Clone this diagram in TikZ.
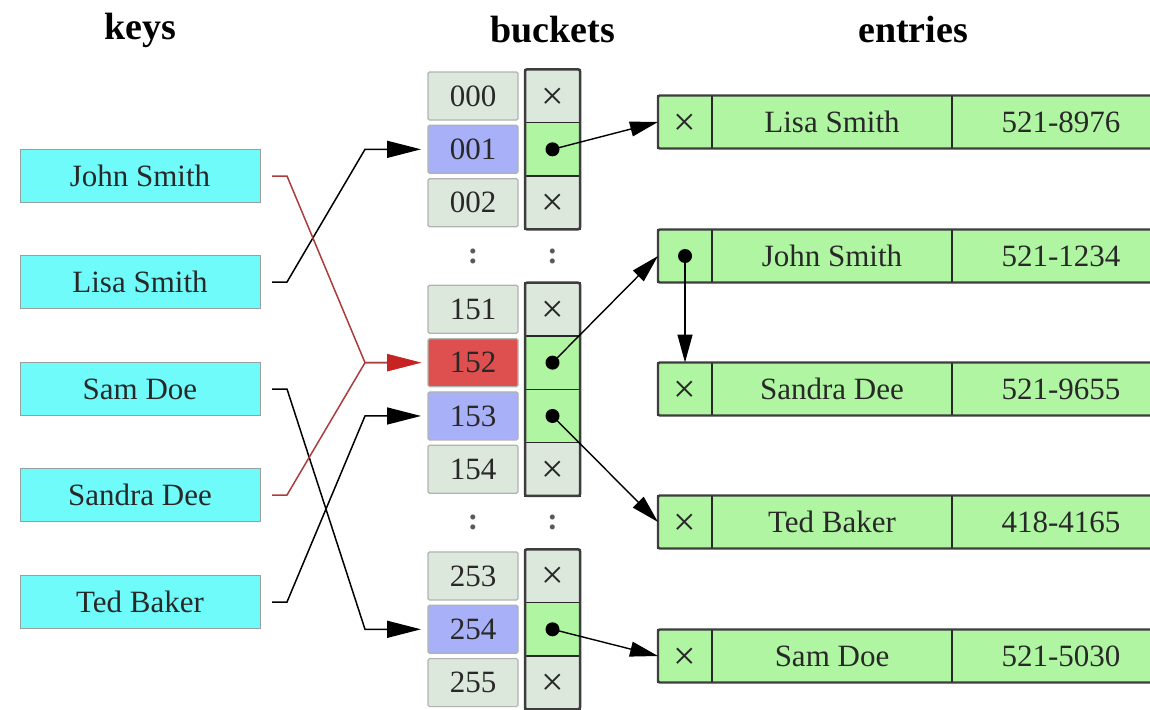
\documentclass[tikz,border=0pt]{standalone}
\usepackage{fontspec}
\setmainfont{Liberation Serif}
\usepackage{xcolor}
\usetikzlibrary{arrows.meta,positioning}
\definecolor{keycyan}{RGB}{112,251,251}
\definecolor{keyedge}{RGB}{150,160,160}
\definecolor{idxgray}{RGB}{221,232,221}
\definecolor{idxedge}{RGB}{175,180,175}
\definecolor{idxblue}{RGB}{168,176,248}
\definecolor{idxred}{RGB}{222,80,80}
\definecolor{entrygreen}{RGB}{176,246,162}
\definecolor{celledge}{RGB}{40,40,40}
\definecolor{textdark}{RGB}{40,40,40}
\definecolor{linkred}{RGB}{170,60,60}
\definecolor{arrowred}{RGB}{200,35,35}
\newcommand{\nullmark}{\raisebox{-13pt}[0pt][0pt]{\fontsize{40}{40}\selectfont ×}}

\begin{document}
\begin{tikzpicture}[x=1pt, y=-1pt,
  every node/.style={font=\fontsize{31}{36}\selectfont, text=textdark, inner sep=0pt, outer sep=0pt},
  title/.style={font=\fontsize{38}{44}\selectfont\bfseries, text=black},
  gapdots/.style={font=\fontsize{31}{36}\selectfont\bfseries, text=black!65},
  keybox/.style={draw=keyedge, line width=1pt, fill=keycyan, minimum width=240pt, minimum height=53pt},
  idxcell/.style={draw=idxedge, line width=1.2pt, rounded corners=1.5pt, fill=idxgray, minimum width=90pt, minimum height=48pt},
  ptrcell/.style={draw=celledge, line width=1.2pt, fill=idxgray, minimum width=55pt, minimum height=53.33pt},
  groupframe/.style={draw=celledge!90, line width=2.5pt, rounded corners=2pt},
  entrycell/.style={draw=celledge, line width=1.2pt, fill=entrygreen, minimum height=53pt},
  entryframe/.style={draw=celledge!90, line width=2.2pt, rounded corners=1.5pt},
  link/.style={draw=black, line width=1.5pt, shorten >=7pt, -{Triangle[length=34pt,width=17pt]}},
  ptrlink/.style={draw=black, line width=1.4pt, -{Triangle[length=28pt,width=15pt]}}]
\path[use as bounding box] (0,0) rectangle (1150,709);
\clip (0,0) rectangle (1150,709);

% column titles
\node[title] (tkeys) at (140,30) {keys};
\node[title] (tbuckets) at (553,30) {buckets};
\node[title] (tentries) at (913,30) {entries};

% keys
\node[keybox] (kjohn) at (140,176) {John Smith};
\node[keybox] (klisa) at (140,282) {Lisa Smith};
\node[keybox] (ksam) at (140,389) {Sam Doe};
\node[keybox] (ksandra) at (140,495) {Sandra Dee};
\node[keybox] (kted) at (140,602) {Ted Baker};

% buckets
\foreach \k/\lbl/\col in {0/000/idxgray, 1/001/idxblue, 2/002/idxgray, 4/151/idxgray, 5/152/idxred,
  6/153/idxblue, 7/154/idxgray, 9/253/idxgray, 10/254/idxblue, 11/255/idxgray}
  \node[idxcell, fill=\col] (i\lbl) at (473,{96+53.33*\k}) {\lbl};
\foreach \k/\lbl in {0/000, 2/002, 4/151, 7/154, 9/253, 11/255}
  \node[ptrcell] (p\lbl) at (552.5,{96+53.33*\k}) {\nullmark};
\foreach \k/\lbl in {1/001, 5/152, 6/153, 10/254}
  \node[ptrcell, fill=entrygreen] (p\lbl) at (552.5,{96+53.33*\k}) {};
\draw[groupframe] (p000.north west) rectangle (p002.south east);
\draw[groupframe] (p151.north west) rectangle (p154.south east);
\draw[groupframe] (p253.north west) rectangle (p255.south east);
\node[gapdots] (gapai) at (473,256) {:};
\node[gapdots] (gapap) at (552.5,256) {:};
\node[gapdots] (gapbi) at (473,522) {:};
\node[gapdots] (gapbp) at (552.5,522) {:};

% entries
\foreach \nm/\yy/\who/\tel/\mark in {lisa/122/Lisa Smith/521-8976/\nullmark,
  john/256/John Smith/521-1234/{}, sandra/389/Sandra Dee/521-9655/\nullmark,
  ted/522/Ted Baker/418-4165/\nullmark, sam/656/Sam Doe/521-5030/\nullmark}
{
  \node[entrycell, minimum width=54pt] (\nm-p) at (685,\yy) {\mark};
  \node[entrycell, minimum width=240pt, right=0pt of \nm-p] (\nm-n) {\who};
  \node[entrycell, minimum width=218pt, right=0pt of \nm-n] (\nm-t) {\tel};
  \draw[entryframe] (\nm-p.north west) rectangle (\nm-t.south east);
}

% keys to buckets
\draw[link] ([xshift=12pt]klisa.east) -- ++(15,0) -- ([xshift=-63pt]i001.west) -- (i001.west);
\draw[link] ([xshift=12pt]ksam.east) -- ++(15,0) -- ([xshift=-63pt]i254.west) -- (i254.west);
\draw[link] ([xshift=12pt]kted.east) -- ++(15,0) -- ([xshift=-63pt]i153.west) -- (i153.west);
\draw[link, draw=linkred, -{Triangle[length=34pt,width=17pt,color=arrowred]}]
  ([xshift=12pt]kjohn.east) -- ++(15,0) -- ([xshift=-63pt]i152.west) -- (i152.west);
\draw[link, draw=linkred, -{Triangle[length=34pt,width=17pt,color=arrowred]}]
  ([xshift=12pt]ksandra.east) -- ++(15,0) -- ([xshift=-63pt]i152.west) -- (i152.west);

% buckets to entries
\foreach \src/\dst in {001/lisa, 152/john, 153/ted, 254/sam}
{
  \fill[black] (p\src.center) circle (7);
  \draw[ptrlink] (p\src.center) -- (\dst-p.west);
}
\fill[black] (john-p.center) circle (7);
\draw[ptrlink] (john-p.center) -- (sandra-p.north);
\end{tikzpicture}
\end{document}
